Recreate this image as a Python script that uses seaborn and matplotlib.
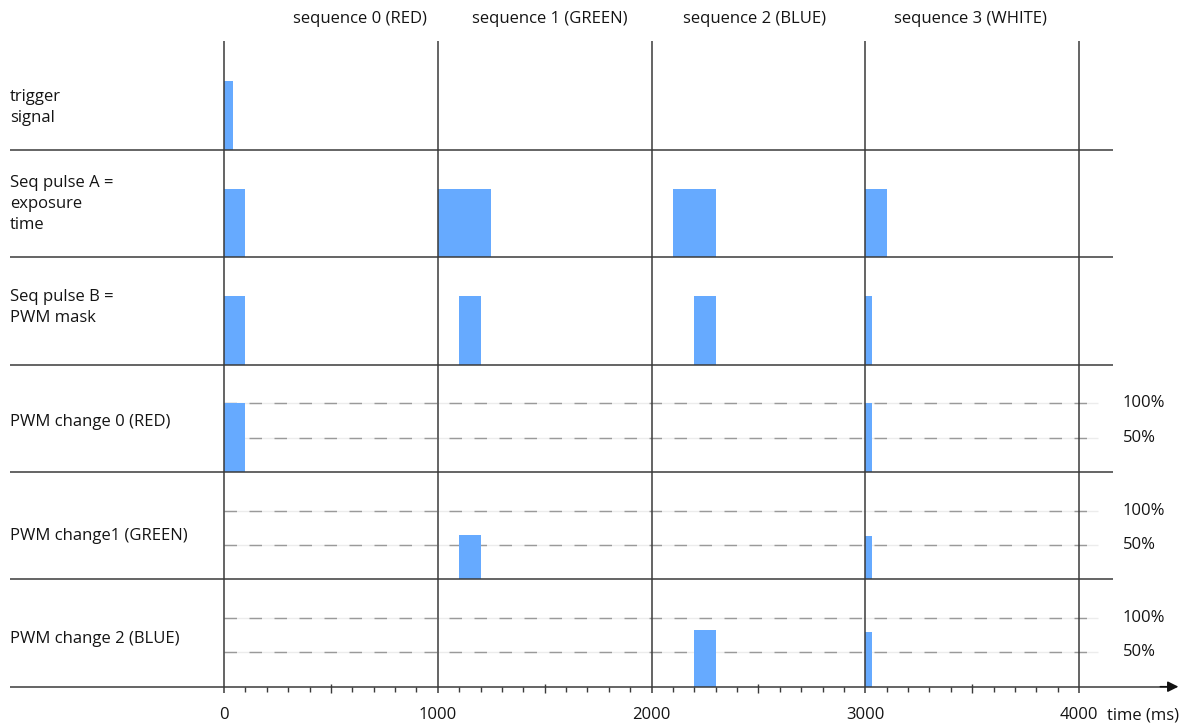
import matplotlib
matplotlib.use("Agg")
import matplotlib.pyplot as plt
import seaborn as sns
import numpy as np

# ---------------- data ----------------
row_labels = ["trigger\nsignal",
              "Seq pulse A =\nexposure\ntime",
              "Seq pulse B =\nPWM mask",
              "PWM change 0 (RED)",
              "PWM change1 (GREEN)",
              "PWM change 2 (BLUE)"]

trigger_start = [0]
trigger_end = [40]
trigger_level = [1.0]

seqA_start = [0, 1000, 2100, 3000]
seqA_end = [100, 1250, 2300, 3100]
seqA_level = [1.0, 1.0, 1.0, 1.0]

seqB_start = [0, 1100, 2200, 3000]
seqB_end = [100, 1200, 2300, 3030]
seqB_level = [1.0, 1.0, 1.0, 1.0]

pwm0_start = [0, 3000]
pwm0_end = [100, 3030]
pwm0_level = [1.0, 1.0]

pwm1_start = [1100, 3000]
pwm1_end = [1200, 3030]
pwm1_level = [0.65, 0.63]

pwm2_start = [2200, 3000]
pwm2_end = [2300, 3030]
pwm2_level = [0.82, 0.80]

sequence_labels = ["sequence 0 (RED)", "sequence 1 (GREEN)",
                   "sequence 2 (BLUE)", "sequence 3 (WHITE)"]
sequence_label_x = [636, 1525, 2484, 3490]

major_ticks = [0, 1000, 2000, 3000, 4000]
level_labels = ["100%", "50%"]
level_values = [1.0, 0.5]

# ---------------- style ----------------
sns.set_theme(style="white")
plt.rcParams["font.family"] = ["Open Sans", "DejaVu Sans"]

BAR = "#66aaff"
LINE = "#3a3a3a"
TXT = "#141414"
FS = 12
UNIT = 0.64  # height of a full pulse inside one row (row height = 1)

fig = plt.figure(figsize=(11.97, 7.25), dpi=100)
ax = fig.add_axes([0, 0, 1, 1])
ax.set_xlim(-1048, 4552)
ax.set_ylim(-0.357, 6.398)
ax.set_axis_off()

rows = [
    (trigger_start, trigger_end, trigger_level),
    (seqA_start, seqA_end, seqA_level),
    (seqB_start, seqB_end, seqB_level),
    (pwm0_start, pwm0_end, pwm0_level),
    (pwm1_start, pwm1_end, pwm1_level),
    (pwm2_start, pwm2_end, pwm2_level),
]
n = len(rows)
label_offsets = [0.40, 0.50, 0.53, 0.47, 0.40, 0.44]

# pulses
for i, (st, en, lv) in enumerate(rows):
    base = n - 1 - i
    st = np.array(st); en = np.array(en); lv = np.array(lv)
    ax.bar(st, lv * UNIT, width=en - st, bottom=base, align="edge",
           color=BAR, edgecolor="none", zorder=2)
    ax.text(-1001, base + label_offsets[i], row_labels[i], ha="left",
            va="center", fontsize=FS, color=TXT, linespacing=1.42)

# dashed level lines for PWM rows
for i in range(3, 6):
    base = n - 1 - i
    for lab, val in zip(level_labels, level_values):
        y = base + val * UNIT
        ax.hlines(y, 0, 4090, color="#ececec", lw=1.0, zorder=1)
        ax.hlines(y, 0, 4090, color="#9a9a9a", lw=1.0,
                  linestyles=(0, (9, 9)), zorder=1.5)
        ax.text(4205, y, lab, ha="left", va="center", fontsize=FS, color=TXT)

# row separators
for k in range(1, n):
    ax.hlines(k, -1001, 4160, color=LINE, lw=1.1, zorder=3)

# time axis with arrow
ax.hlines(0, -1001, 4420, color=LINE, lw=1.1, zorder=3)
ax.annotate("", xy=(4465, 0), xytext=(4380, 0),
            arrowprops=dict(arrowstyle="-|>", color="#111111", lw=1.1,
                            mutation_scale=16, shrinkA=0, shrinkB=0))

# vertical lines
for t in major_ticks:
    ax.vlines(t, -0.055, 6.02, color=LINE, lw=1.1, zorder=3)
    ax.text(t, -0.265, f"{t}", ha="center", va="center", fontsize=FS, color=TXT)

# minor ticks
for t in range(0, 4001, 100):
    if t % 1000 == 0:
        continue
    if t % 500 == 0:
        ax.vlines(t, -0.055, 0.025, color=LINE, lw=1.0, zorder=3)
    else:
        ax.vlines(t, -0.048, 0.0, color=LINE, lw=1.0, zorder=3)

ax.text(4130, -0.265, "time (ms)", ha="left", va="center", fontsize=FS, color=TXT)

for lab, x in zip(sequence_labels, sequence_label_x):
    ax.text(x, 6.22, lab, ha="center", va="center", fontsize=FS, color=TXT)

fig.savefig("out.png", dpi=100, facecolor="white")
